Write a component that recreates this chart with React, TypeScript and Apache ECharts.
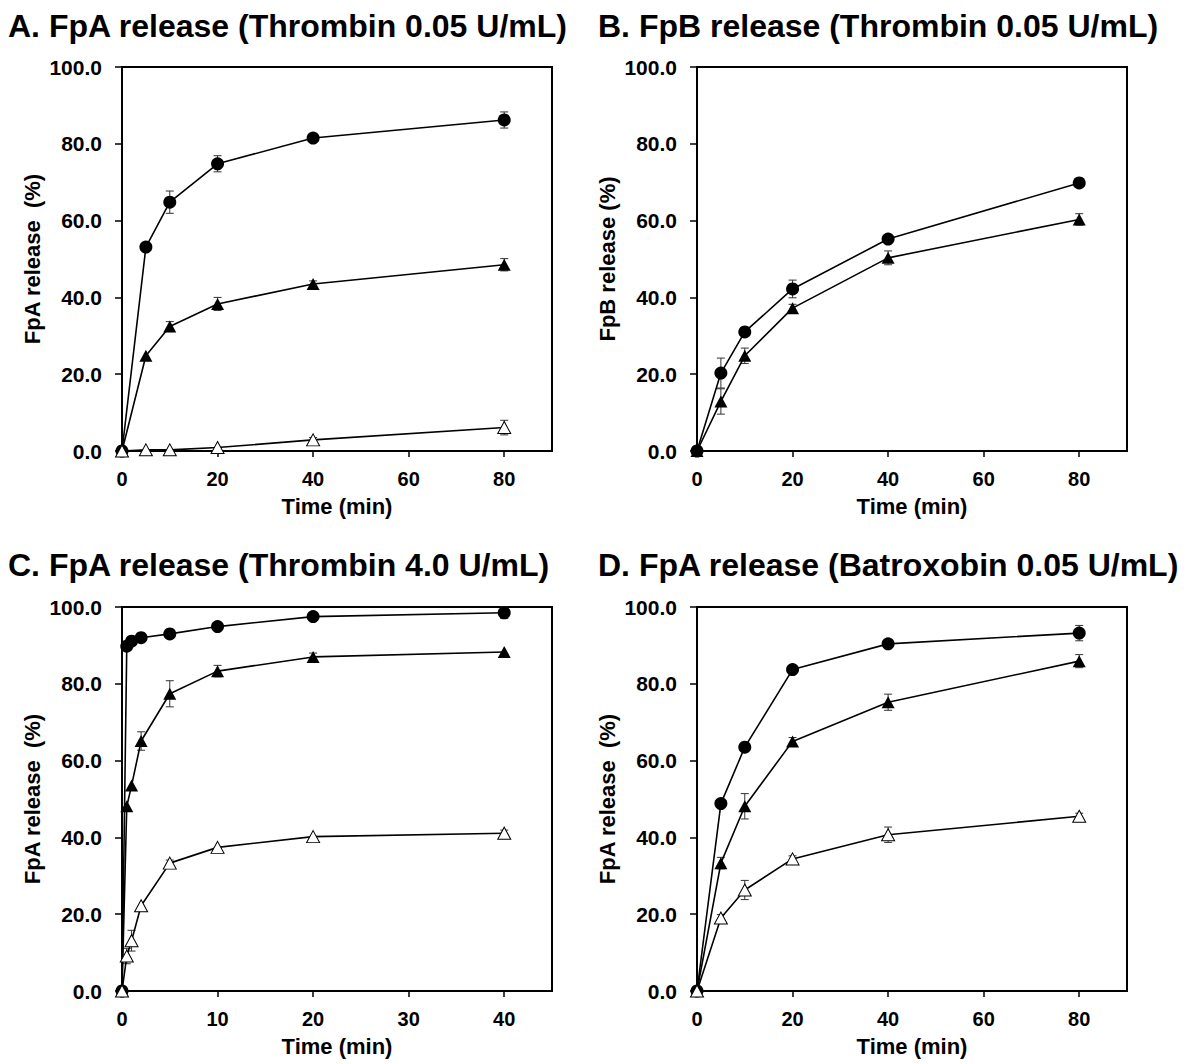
import React, { useEffect, useRef } from "react";
import * as echarts from "echarts";

// ---------- Data ----------
const panelTitles = [
  "A. FpA release (Thrombin 0.05 U/mL)",
  "B. FpB release (Thrombin 0.05 U/mL)",
  "C. FpA release (Thrombin 4.0 U/mL)",
  "D. FpA release (Batroxobin 0.05 U/mL)",
];
const yAxisNames = ["FpA release  (%)", "FpB release (%)", "FpA release  (%)", "FpA release  (%)"];
const xAxisName = "Time (min)";

// Panel A
const timeA = [0, 5, 10, 20, 40, 80];
const aCircle = [0, 53.1, 64.8, 74.8, 81.5, 86.2];
const aCircleErr = [0, 0, 2.9, 2.1, 0, 2.1];
const aTriFilled = [0, 24.8, 32.4, 38.3, 43.5, 48.5];
const aTriFilledErr = [0, 0, 1.3, 1.7, 0.8, 1.6];
const aTriOpen = [0, 0.3, 0.3, 0.9, 2.9, 6.1];
const aTriOpenErr = [0, 0, 0, 0, 0.6, 1.9];

// Panel B
const timeB = [0, 5, 10, 20, 40, 80];
const bCircle = [0, 20.3, 31.0, 42.2, 55.2, 69.8];
const bCircleErr = [0, 3.9, 0, 2.3, 0, 0];
const bTriFilled = [0, 12.9, 24.8, 37.2, 50.3, 60.3];
const bTriFilledErr = [0, 3.3, 2.0, 1.0, 1.8, 1.5];

// Panel C
const timeC = [0, 0.5, 1, 2, 5, 10, 20, 40];
const cCircle = [0, 89.8, 91.1, 92.0, 93.0, 94.9, 97.5, 98.5];
const cCircleErr = [0, 0, 0, 0, 0, 0, 0, 1.5];
const cTriFilled = [0, 48.1, 53.5, 65.1, 77.4, 83.3, 87.0, 88.3];
const cTriFilledErr = [0, 0, 0, 2.4, 3.4, 1.5, 1.0, 0];
const cTriOpen = [0, 9.1, 13.1, 22.2, 33.3, 37.4, 40.2, 41.1];
const cTriOpenErr = [0, 2.0, 2.7, 0, 0.8, 0, 0, 0.8];

// Panel D
const timeD = [0, 5, 10, 20, 40, 80];
const dCircle = [0, 48.8, 63.5, 83.7, 90.4, 93.2];
const dCircleErr = [0, 0, 0, 0, 0, 2.0];
const dTriFilled = [0, 33.3, 48.1, 65.0, 75.2, 85.9];
const dTriFilledErr = [0, 1.5, 3.3, 1.0, 2.1, 1.7];
const dTriOpen = [0, 19.0, 26.3, 34.4, 40.7, 45.5];
const dTriOpenErr = [0, 0.9, 2.5, 0.8, 2.0, 0.8];

const xMaxes = [90, 90, 45, 90];
const xIntervals = [20, 20, 10, 20];

type S = { kind: "circle" | "filled" | "open"; y: number[]; err: number[] };
const panels: { t: number[]; series: S[] }[] = [
  {
    t: timeA,
    series: [
      { kind: "circle", y: aCircle, err: aCircleErr },
      { kind: "filled", y: aTriFilled, err: aTriFilledErr },
      { kind: "open", y: aTriOpen, err: aTriOpenErr },
    ],
  },
  {
    t: timeB,
    series: [
      { kind: "circle", y: bCircle, err: bCircleErr },
      { kind: "filled", y: bTriFilled, err: bTriFilledErr },
    ],
  },
  {
    t: timeC,
    series: [
      { kind: "circle", y: cCircle, err: cCircleErr },
      { kind: "filled", y: cTriFilled, err: cTriFilledErr },
      { kind: "open", y: cTriOpen, err: cTriOpenErr },
    ],
  },
  {
    t: timeD,
    series: [
      { kind: "circle", y: dCircle, err: dCircleErr },
      { kind: "filled", y: dTriFilled, err: dTriFilledErr },
      { kind: "open", y: dTriOpen, err: dTriOpenErr },
    ],
  },
];

const FONT = "'Liberation Sans', Arial, Helvetica, sans-serif";

const gridPos = [
  { left: 122, top: 67, width: 430, height: 384 },
  { left: 697, top: 67, width: 430, height: 384 },
  { left: 122, top: 607, width: 430, height: 384 },
  { left: 697, top: 607, width: 430, height: 384 },
];
const titlePos = [
  { left: 8, top: 10 },
  { left: 598, top: 10 },
  { left: 8, top: 549 },
  { left: 598, top: 549 },
];

function buildOption() {
  const grid = gridPos.map((g) => ({
    ...g,
    show: true,
    borderColor: "#000",
    borderWidth: 2,
    backgroundColor: "transparent",
    containLabel: false,
  }));
  const title = panelTitles.map((text, i) => ({
    text,
    left: titlePos[i].left,
    top: titlePos[i].top,
    padding: 0,
    textStyle: { fontSize: 32, fontWeight: "bold", color: "#000", fontFamily: FONT },
  }));
  const xAxis = panels.map((_, i) => ({
    type: "value",
    gridIndex: i,
    min: 0,
    max: xMaxes[i],
    interval: xIntervals[i],
    name: xAxisName,
    nameLocation: "middle",
    nameGap: 44,
    nameTextStyle: { fontSize: 22, fontWeight: "bold", color: "#000", fontFamily: FONT },
    axisLine: { show: true, lineStyle: { color: "#000", width: 2 } },
    axisTick: { show: true, inside: false, length: 6, lineStyle: { color: "#000", width: 1.5 } },
    axisLabel: {
      showMaxLabel: false,
      margin: 18,
      fontSize: 20,
      fontWeight: "bold",
      color: "#000",
      fontFamily: FONT,
    },
    splitLine: { show: false },
  }));
  const yAxis = panels.map((_, i) => ({
    type: "value",
    gridIndex: i,
    min: 0,
    max: 100,
    interval: 20,
    name: yAxisNames[i],
    nameLocation: "middle",
    nameGap: 79,
    nameRotate: 90,
    nameTextStyle: { fontSize: 22, fontWeight: "bold", color: "#000", fontFamily: FONT },
    axisLine: { show: true, lineStyle: { color: "#000", width: 2 } },
    axisTick: { show: true, inside: false, length: 7, lineStyle: { color: "#000", width: 1.5 } },
    axisLabel: {
      margin: 20,
      fontSize: 21,
      fontWeight: "bold",
      color: "#000",
      fontFamily: FONT,
      formatter: (v: number) => v.toFixed(1),
    },
    splitLine: { show: false },
  }));

  const series: any[] = [];
  panels.forEach((p, i) => {
    p.series.forEach((s) => {
      const errData = p.t
        .map((t, k) => [t, s.y[k], s.err[k]])
        .filter((d) => d[2] > 0);
      series.push({
        type: "custom",
        xAxisIndex: i,
        yAxisIndex: i,
        z: 1,
        silent: true,
        encode: { x: 0, y: 1 },
        data: errData,
        renderItem: (params: any, api: any) => {
          const x = api.value(0);
          const y = api.value(1);
          const e = api.value(2);
          const top = api.coord([x, y + e]);
          const bot = api.coord([x, y - e]);
          const hw = 4;
          const st = { stroke: "#333", lineWidth: 1 };
          return {
            type: "group",
            children: [
              { type: "line", shape: { x1: top[0], y1: top[1], x2: bot[0], y2: bot[1] }, style: st },
              { type: "line", shape: { x1: top[0] - hw, y1: top[1], x2: top[0] + hw, y2: top[1] }, style: st },
              { type: "line", shape: { x1: bot[0] - hw, y1: bot[1], x2: bot[0] + hw, y2: bot[1] }, style: st },
            ],
          };
        },
      });
      const isCircle = s.kind === "circle";
      series.push({
        type: "line",
        xAxisIndex: i,
        yAxisIndex: i,
        z: 2,
        data: p.t.map((t, k) => [t, s.y[k]]),
        symbol: isCircle ? "circle" : "triangle",
        symbolSize: isCircle ? 13 : [13, 12],
        showAllSymbol: true,
        lineStyle: { color: "#000", width: 1.6 },
        itemStyle: {
          color: s.kind === "open" ? "#fff" : "#000",
          borderColor: "#000",
          borderWidth: s.kind === "open" ? 1 : 0,
        },
        emphasis: { disabled: true },
      });
    });
  });

  return {
    animation: false,
    backgroundColor: "#fff",
    title,
    grid,
    xAxis,
    yAxis,
    series,
  };
}

export default function App() {
  const ref = useRef<HTMLDivElement>(null);
  useEffect(() => {
    if (!ref.current) return;
    const chart = echarts.init(ref.current, undefined, { renderer: "svg" });
    chart.setOption(buildOption() as any);
    return () => chart.dispose();
  }, []);
  return (
    <div
      ref={ref}
      style={{ position: "absolute", left: 0, top: 0, width: 1197, height: 1064, background: "#fff" }}
    />
  );
}
